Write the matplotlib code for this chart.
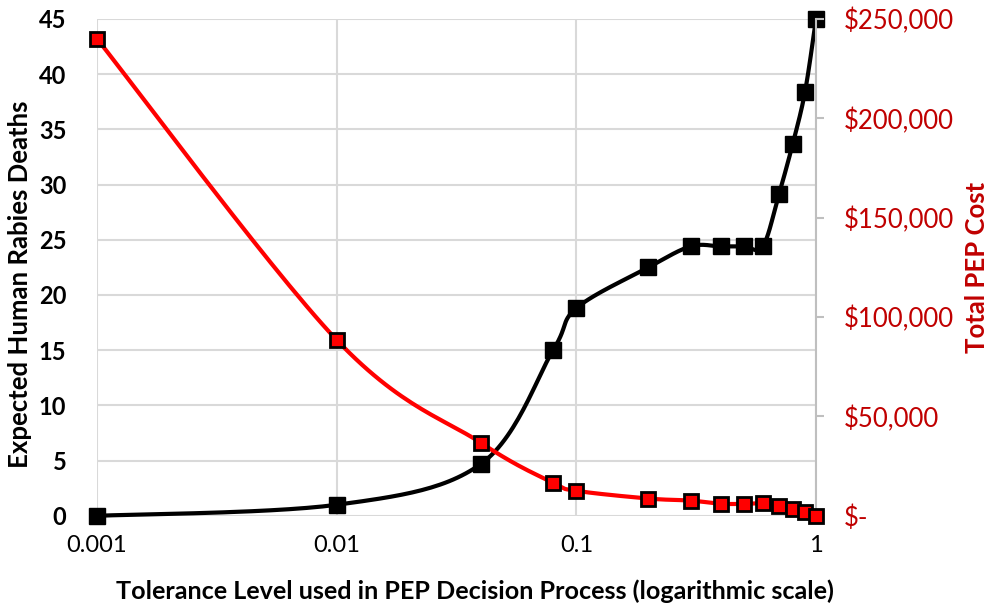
import numpy as np
import matplotlib
matplotlib.use("Agg")
import matplotlib.pyplot as plt
from matplotlib.ticker import FuncFormatter, FixedLocator

# ---- data ----
tolerance = [0.001, 0.01, 0.04, 0.08, 0.1, 0.2, 0.3, 0.4, 0.5, 0.6, 0.7, 0.8, 0.9, 1.0]
deaths = [0.0, 1.0, 4.7, 15.0, 18.8, 22.5, 24.4, 24.4, 24.4, 24.4, 29.1, 33.7, 38.4, 45.0]
pep_cost = [240000, 88500, 36700, 16600, 12600, 8700, 7650, 6100, 6000, 6300, 4700, 3300, 2000, 0]
x_ticks = [0.001, 0.01, 0.1, 1]
x_tick_labels = ["0.001", "0.01", "0.1", "1"]
left_ticks = [0, 5, 10, 15, 20, 25, 30, 35, 40, 45]
right_ticks = [0, 50000, 100000, 150000, 200000, 250000]

FONT = "Lato"
DARKRED = "#C00000"
GRID = "#D9D9D9"


def smooth(xs, ys, xscale, yscale, n=30):
    """Excel-like Catmull-Rom Bezier smoothing in (log10 x, y) screen-like space."""
    u = np.log10(np.asarray(xs, float)) * xscale
    v = np.asarray(ys, float) * yscale
    P = np.column_stack([u, v])
    m = len(P)
    out = []
    for i in range(m - 1):
        p0 = P[i - 1] if i > 0 else P[i]
        p1 = P[i]
        p2 = P[i + 1]
        p3 = P[i + 2] if i + 2 < m else P[i + 1]
        c1 = p1 + (p2 - p0) / 6.0
        c2 = p2 - (p3 - p1) / 6.0
        t = np.linspace(0, 1, n)[:, None]
        seg = ((1 - t) ** 3) * p1 + 3 * ((1 - t) ** 2) * t * c1 + 3 * (1 - t) * t ** 2 * c2 + t ** 3 * p2
        out.append(seg if i == 0 else seg[1:])
    S = np.vstack(out)
    return 10 ** (S[:, 0] / xscale), S[:, 1] / yscale


fig = plt.figure(figsize=(10.0, 6.09), dpi=100)
ax = fig.add_axes([0.097, 0.153, 0.719, 0.816])
ax2 = ax.twinx()

ax.set_xscale("log")
ax.set_xlim(0.001, 1)
ax.set_ylim(0, 45)
ax2.set_ylim(0, 250000)

ax.xaxis.set_major_locator(FixedLocator(x_ticks))
ax.xaxis.set_minor_locator(FixedLocator([]))
ax.set_xticks(x_ticks)
ax.set_xticklabels(x_tick_labels)
ax.set_yticks(left_ticks)
ax.grid(True, which="major", color=GRID, linewidth=1.5)
ax.set_axisbelow(True)

for a in (ax, ax2):
    for s in a.spines.values():
        s.set_visible(False)
ax2.spines["right"].set_visible(True)
ax2.spines["right"].set_color("#BFBFBF")
ax2.spines["right"].set_linewidth(1.5)

ax.tick_params(axis="x", length=0, pad=14, labelsize=17)
ax.tick_params(axis="y", length=0, pad=22, labelsize=17)
for lab in ax.get_yticklabels():
    lab.set_fontweight("bold")
for lab in ax.get_xticklabels() + ax.get_yticklabels():
    lab.set_fontfamily(FONT)

ax2.set_yticks(right_ticks)
ax2.yaxis.set_major_formatter(FuncFormatter(lambda v, p: "$-" if v == 0 else "${:,.0f}".format(v)))
ax2.tick_params(axis="y", length=6, width=1.5, color="#BFBFBF", pad=14, labelsize=18.5, labelcolor=DARKRED)
for lab in ax2.get_yticklabels():
    lab.set_fontfamily(FONT)

# black line (deaths)
sx, sy = smooth(tolerance, deaths, 239.7, 497 / 45)
ax.plot(sx, sy, color="black", linewidth=3.0, solid_capstyle="round", zorder=3, clip_on=False)
ax.plot(tolerance, deaths, linestyle="none", marker="s", markersize=12, color="black",
        markeredgecolor="black", zorder=4, clip_on=False)

# red line (cost)
rx, ry = smooth(tolerance, pep_cost, 239.7, 497 / 250000)
ax2.plot(rx, ry, color="#FF0000", linewidth=3.0, zorder=3, clip_on=False)
ax2.plot(tolerance, pep_cost, linestyle="none", marker="s", markersize=9.5, markerfacecolor="#FF0000",
         markeredgecolor="black", markeredgewidth=2.0, zorder=4, clip_on=False)

ax.set_xlabel("Tolerance Level used in PEP Decision Process (logarithmic scale)", fontsize=18.1,
              fontweight="bold", family=FONT)
ax.xaxis.set_label_coords(0.526, -0.128)
ax.set_ylabel("Expected Human Rabies Deaths", fontsize=18.5, fontweight="bold", family=FONT)
ax.yaxis.set_label_coords(-0.091, 0.465)
ax2.set_ylabel("Total PEP Cost", fontsize=18.5, fontweight="bold", family=FONT, color=DARKRED, labelpad=8)

fig.savefig("out.png", dpi=100, facecolor="white")
